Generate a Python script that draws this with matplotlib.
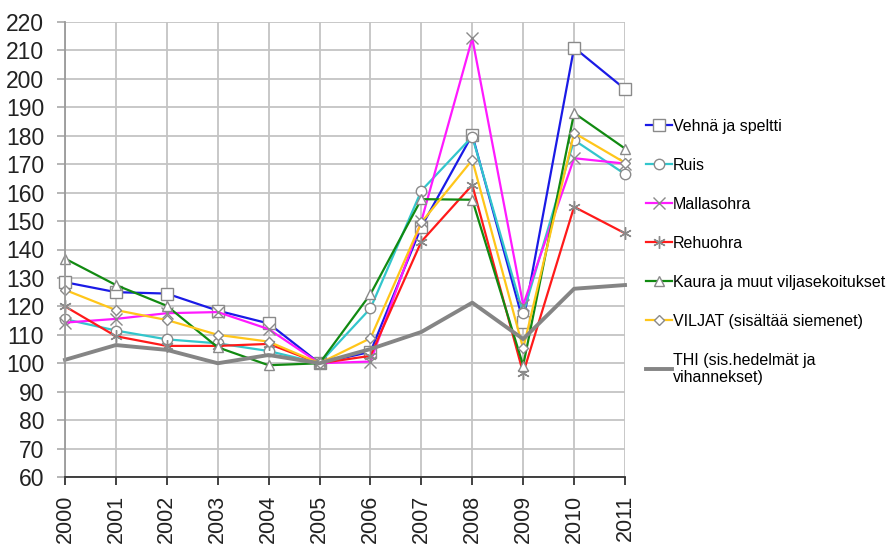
import matplotlib
matplotlib.use("Agg")
import matplotlib.pyplot as plt

plt.rcParams['font.family'] = ['Liberation Sans', 'DejaVu Sans']

years = list(range(2000, 2012))
year_labels = [str(y) for y in years]

vehna = [128.5, 125, 124.5, 118.5, 114, 100, 104, 148, 180.3, 114.6, 211, 196.4]
ruis = [115.5, 111.5, 108.4, 107, 104.3, 100, 119.3, 160.7, 179.7, 117.5, 178.5, 166.5]
mallasohra = [114.3, 115.6, 117.6, 118, 112, 100, 100.6, 150, 214.3, 120.5, 172.1, 170.2]
rehuohra = [120, 109.5, 106.1, 106.1, 106.8, 100, 102.6, 142.8, 162.7, 96.5, 155, 145.7]
kaura = [136.8, 127.5, 120.2, 105.6, 99.3, 100, 124.3, 157.7, 157.5, 99.2, 188, 175.5]
viljat = [125.8, 118.7, 115.2, 110, 107.6, 100, 108.8, 149.5, 171.5, 105.2, 181, 170.5]
thi = [101.2, 106.4, 104.7, 100, 102.9, 100, 105, 111, 121.3, 108.5, 126.2, 127.5]

names = [
    "Vehnä ja speltti",
    "Ruis",
    "Mallasohra",
    "Rehuohra",
    "Kaura ja muut viljasekoitukset",
    "VILJAT (sisältää siemenet)",
    "THI (sis.hedelmät ja\nvihannekset)",
]

y_ticks = list(range(60, 221, 10))

fig = plt.figure(figsize=(8.93, 5.45), dpi=100)
ax = fig.add_axes([65 / 893, 68 / 545, 560 / 893, 455 / 545])

edge = "#8a8a8a"
styles = [
    (vehna, "#1a1ae6", dict(marker="s", markersize=8)),
    (ruis, "#33c6cc", dict(marker="o", markersize=7.5)),
    (mallasohra, "#ff1aff", dict(marker="x", markersize=8, markeredgewidth=1.0)),
    (rehuohra, "#ff1a1a", dict(marker=(6, 2, 0), markersize=9, markeredgewidth=1.0)),
    (kaura, "#118a11", dict(marker="^", markersize=7.5)),
    (viljat, "#ffc61a", dict(marker="D", markersize=5.5)),
]

for (vals, col, mk), name in zip(styles, names[:6]):
    ax.plot(years, vals, color=col, linewidth=1.6, label=name, clip_on=False,
            markerfacecolor="white", markeredgecolor=edge, **mk)

ax.plot(years, thi, color="#858585", linewidth=2.8, label=names[6], clip_on=False)

ax.set_xlim(2000, 2011)
ax.set_ylim(60, 220)
ax.set_xticks(years)
ax.set_xticklabels(year_labels, rotation=90, fontsize=15.5, color="#222222")
ax.set_yticks(y_ticks)
ax.set_yticklabels([str(v) for v in y_ticks], fontsize=16.5, color="#222222")

ax.grid(True, color="#c4c4c4", linewidth=1.3)
ax.set_axisbelow(True)
for s in ["top", "right"]:
    ax.spines[s].set_visible(False)
ax.spines["left"].set_color("#9a9a9a")
ax.spines["left"].set_linewidth(1.3)
ax.spines["bottom"].set_color("#333333")
ax.spines["bottom"].set_linewidth(1.3)
ax.tick_params(axis="y", length=6, width=1.3, color="#b0b0b0", pad=9)
ax.tick_params(axis="x", length=6, width=1.3, color="#333333", pad=7)

leg = ax.legend(loc="upper left", bbox_to_anchor=(646 / 893, 1 - 119 / 545),
                bbox_transform=fig.transFigure, frameon=False, fontsize=11.5,
                handlelength=1.6, handletextpad=0.1, labelspacing=1.5,
                borderaxespad=0, borderpad=0)

fig.savefig("out.png", dpi=100)
